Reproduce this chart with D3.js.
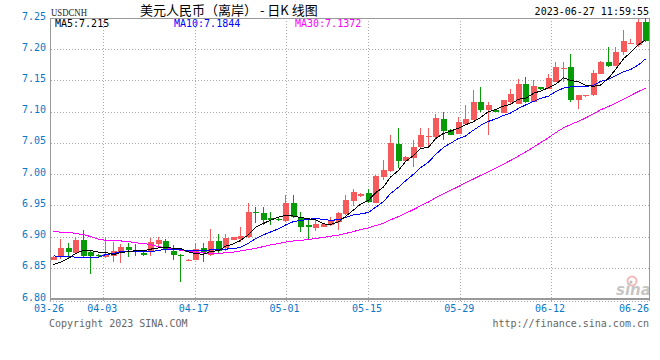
<!DOCTYPE html>
<html>
<head>
<meta charset="UTF-8">
<script src="https://d3js.org/d3.v7.min.js"></script>
<style>
  body { margin: 0; background: #fff; }
  svg { display: block; }
  .mono { font-family: 'DejaVu Sans Mono', monospace; font-size: 10px; }
</style>
</head>
<body>
<svg width="660" height="360"></svg>
<script>
// daily candles, 80 sessions
const opens  = [6.863,6.867,6.882,6.874,6.894,6.875,6.870,6.868,6.869,6.875,6.884,6.878,6.874,6.877,6.888,6.893,6.877,6.870,6.862,6.863,
                6.881,6.870,6.893,6.881,6.895,6.896,6.899,6.939,6.938,6.930,6.928,6.925,6.954,6.931,6.918,6.914,6.916,6.919,6.923,6.936,
                6.957,6.965,6.969,6.954,6.996,7.005,7.049,7.021,7.025,7.044,7.060,7.060,7.088,7.071,7.065,7.081,7.087,7.115,7.102,7.103,
                7.098,7.116,7.112,7.144,7.116,7.139,7.137,7.148,7.169,7.171,7.119,7.125,7.126,7.160,7.179,7.173,7.195,7.209,7.207,7.243];
const highs  = [6.869,6.896,6.890,6.899,6.910,6.879,6.872,6.899,6.891,6.888,6.889,6.888,6.875,6.898,6.900,6.896,6.886,6.872,6.864,6.889,
                6.889,6.912,6.904,6.904,6.900,6.915,6.953,6.948,6.948,6.939,6.929,6.966,6.966,6.939,6.930,6.928,6.922,6.931,6.939,6.966,
                6.976,6.970,6.976,6.999,7.023,7.062,7.074,7.029,7.054,7.074,7.074,7.096,7.099,7.072,7.091,7.110,7.135,7.140,7.116,7.104,
                7.118,7.136,7.153,7.156,7.150,7.140,7.161,7.180,7.179,7.192,7.127,7.127,7.167,7.181,7.204,7.203,7.230,7.216,7.248,7.250];
const lows   = [6.862,6.864,6.866,6.873,6.868,6.840,6.866,6.866,6.859,6.858,6.867,6.869,6.869,6.869,6.881,6.873,6.863,6.827,6.861,6.862,
                6.860,6.869,6.874,6.877,6.894,6.892,6.898,6.921,6.919,6.919,6.925,6.924,6.930,6.907,6.896,6.909,6.915,6.917,6.910,6.935,
                6.949,6.963,6.953,6.953,6.991,7.004,7.010,7.020,7.012,7.040,7.042,7.055,7.055,7.062,7.064,7.080,7.086,7.100,7.063,7.099,
                7.098,7.113,7.112,7.114,7.115,7.135,7.137,7.148,7.148,7.116,7.104,7.124,7.125,7.160,7.171,7.173,7.191,7.208,7.204,7.212];
const closes = [6.868,6.882,6.875,6.894,6.869,6.869,6.869,6.872,6.877,6.884,6.878,6.875,6.871,6.891,6.894,6.880,6.871,6.869,6.863,6.880,
                6.875,6.893,6.877,6.897,6.900,6.901,6.940,6.937,6.927,6.926,6.926,6.954,6.931,6.916,6.915,6.920,6.920,6.925,6.937,6.959,
                6.971,6.968,6.955,6.997,7.006,7.050,7.021,7.027,7.044,7.062,7.061,7.090,7.069,7.063,7.084,7.089,7.115,7.102,7.110,7.100,
                7.118,7.128,7.144,7.116,7.141,7.136,7.154,7.171,7.170,7.118,7.127,7.126,7.162,7.180,7.173,7.196,7.213,7.210,7.244,7.213];

// moving averages as shown on the chart
const ma5  = [6.855,6.859,6.865,6.873,6.8776,6.8778,6.8752,6.8746,6.8712,6.8742,6.876,6.8772,6.877,6.8798,6.8818,6.8822,6.8814,6.881,6.8754,6.8726,
              6.8716,6.876,6.8776,6.8844,6.8884,6.8936,6.903,6.915,6.921,6.9262,6.9312,6.934,6.9328,6.9306,6.9284,6.9272,6.9204,6.9192,6.9234,6.9322,
              6.9424,6.952,6.958,6.970,6.9794,6.9952,7.0058,7.0202,7.0296,7.0408,7.043,7.0568,7.0652,7.069,7.0734,7.079,7.084,7.0906,7.100,7.1032,
              7.109,7.1116,7.120,7.1212,7.1294,7.133,7.1382,7.1436,7.1544,7.1498,7.148,7.1424,7.1406,7.1426,7.1536,7.1674,7.1848,7.1944,7.2072,7.215];
const ma10 = [6.869,6.868,6.868,6.867,6.867,6.867,6.867,6.871,6.873,6.8759,6.8769,6.8762,6.8758,6.8755,6.878,6.8791,6.8793,6.879,6.8776,6.8772,
              6.8769,6.8787,6.8793,6.8799,6.8805,6.8826,6.8895,6.8963,6.9027,6.9073,6.9124,6.9185,6.9239,6.9258,6.9273,6.9292,6.9272,6.926,6.927,6.9303,
              6.9348,6.9362,6.9386,6.9467,6.9558,6.9688,6.9789,6.9891,6.9998,7.0101,7.0191,7.0313,7.0427,7.0493,7.0571,7.061,7.0704,7.0779,7.0845,7.0883,
              7.094,7.0978,7.1053,7.1106,7.1163,7.121,7.1249,7.1318,7.1378,7.1396,7.1405,7.1403,7.1421,7.1485,7.1517,7.1577,7.1636,7.1675,7.1749,7.1844];
const ma30 = [6.908,6.907,6.907,6.905,6.903,6.900,6.896,6.894,6.893,6.893,6.892,6.890,6.889,6.887,6.884,6.882,6.880,6.878,6.876,6.875,
              6.874,6.873,6.873,6.874,6.875,6.877,6.879,6.881,6.884,6.8868,6.8887,6.8911,6.893,6.8937,6.8953,6.897,6.8987,6.9004,6.9024,6.9049,
              6.908,6.9111,6.9139,6.9175,6.9212,6.9269,6.9319,6.9371,6.9432,6.9492,6.9554,6.962,6.9684,6.9739,6.9801,6.9863,6.9922,6.9977,7.0038,7.0096,
              7.016,7.0218,7.0289,7.0355,7.0431,7.0503,7.0581,7.0663,7.074,7.0793,7.0845,7.0898,7.0967,7.1028,7.1084,7.1132,7.1196,7.1257,7.1324,7.1372];

const yTicks = [7.25, 7.20, 7.15, 7.10, 7.05, 7.00, 6.95, 6.90, 6.85, 6.80];
const dateLabels = ["03-26","04-03","04-17","05-01","05-15","05-29","06-12","06-26"];
const datePos = [-0.5, 6.6, 18.8, 30.9, 41.9, 54.2, 66.3, 78];

const svg = d3.select("svg");
const pLeft = 50, pRight = 650, pTop = 18, pBottom = 299;
const x = d3.scaleLinear().domain([-0.5, closes.length - 0.5]).range([pLeft, pRight]);
const y = d3.scaleLinear().domain([6.80, 7.25]).range([pBottom, pTop]);
const blue = "#0a77c9", grid = "#aaa";
const up = "#f65a5a", down = "#079c07";

// horizontal grid
svg.append("g").selectAll("line")
  .data(yTicks.filter(v => v < 7.25 && v > 6.80))
  .join("line")
  .attr("x1", pLeft + 1).attr("x2", pRight)
  .attr("y1", d => Math.round(y(d)) + 0.5).attr("y2", d => Math.round(y(d)) + 0.5)
  .attr("stroke", grid).attr("stroke-dasharray", "1,2").attr("shape-rendering", "crispEdges");

// vertical grid
svg.append("g").selectAll("line")
  .data(datePos.slice(1, -1))
  .join("line")
  .attr("x1", d => Math.round(x(d)) + 0.5).attr("x2", d => Math.round(x(d)) + 0.5)
  .attr("y1", pTop).attr("y2", pBottom + 3)
  .attr("stroke", grid).attr("stroke-dasharray", "1,2").attr("shape-rendering", "crispEdges");

// frame
svg.append("line").attr("x1", pLeft).attr("x2", pRight).attr("y1", pTop + 0.5).attr("y2", pTop + 0.5)
  .attr("stroke", "#999").attr("shape-rendering", "crispEdges");
svg.append("line").attr("x1", pLeft + 0.5).attr("x2", pLeft + 0.5).attr("y1", pTop).attr("y2", pBottom + 2)
  .attr("stroke", "#999").attr("shape-rendering", "crispEdges");
svg.append("line").attr("x1", pRight - 0.5).attr("x2", pRight - 0.5).attr("y1", pTop).attr("y2", pBottom + 2)
  .attr("stroke", "#999").attr("shape-rendering", "crispEdges");
svg.append("line").attr("x1", pLeft).attr("x2", pRight).attr("y1", pBottom).attr("y2", pBottom)
  .attr("stroke", "#999").attr("stroke-width", 2).attr("shape-rendering", "crispEdges");
svg.append("line").attr("x1", pLeft).attr("x2", pRight).attr("y1", pBottom + 2.5).attr("y2", pBottom + 2.5)
  .attr("stroke", grid).attr("stroke-dasharray", "1,2").attr("shape-rendering", "crispEdges");

// y labels
svg.append("g").selectAll("text")
  .data(yTicks)
  .join("text")
  .attr("class", "mono")
  .attr("x", 46).attr("y", d => y(d) + 1.5)
  .attr("text-anchor", "end").attr("fill", blue)
  .text(d => d.toFixed(2));

// x labels
svg.append("g").selectAll("text")
  .data(dateLabels)
  .join("text")
  .attr("class", "mono")
  .attr("x", (d, i) => Math.min(Math.max(x(datePos[i]) - 1, 49), 634))
  .attr("y", 312)
  .attr("text-anchor", "middle").attr("fill", blue)
  .text(d => d);

// candles
const candles = svg.append("g").attr("shape-rendering", "crispEdges");
closes.forEach((c, i) => {
  const o = opens[i], col = c >= o ? up : down;
  const cx = Math.round(x(i));
  const yt = Math.round(y(Math.max(o, c))), yb = Math.round(y(Math.min(o, c)));
  const yh = Math.round(y(highs[i])), yl = Math.round(y(lows[i]));
  candles.append("rect").attr("x", cx - 1).attr("y", yh).attr("width", 1).attr("height", Math.max(1, yl - yh)).attr("fill", col);
  candles.append("rect").attr("x", cx - 3).attr("y", yt).attr("width", 6).attr("height", Math.max(1, yb - yt)).attr("fill", col);
});

// moving averages
const maLine = d3.line().x((d, i) => Math.round(x(i)) - 0.5).y(d => y(d));
[[ma30, "#ff00ff"], [ma10, "#0000ff"], [ma5, "#000"]].forEach(([s, col]) => {
  svg.append("path").attr("d", maLine(s)).attr("fill", "none")
    .attr("stroke", col).attr("stroke-width", 1).attr("shape-rendering", "crispEdges");
});

// header
svg.append("text").attr("x", 51).attr("y", 15.5)
  .attr("font-family", "'Liberation Serif', serif").attr("font-size", 10)
  .attr("textLength", 36).attr("lengthAdjust", "spacingAndGlyphs")
  .attr("fill", "#222").text("USDCNH");
svg.append("text").attr("x", 140).attr("y", 15)
  .attr("font-family", "'Noto Sans CJK SC', sans-serif").attr("font-size", 13)
  .attr("fill", "#000").text("美元人民币（离岸） - 日K 线图");
svg.append("text").attr("class", "mono").attr("x", 649).attr("y", 15)
  .attr("text-anchor", "end").attr("fill", "#000").text("2023-06-27 11:59:55");

svg.append("text").attr("class", "mono").attr("x", 55).attr("y", 26.5).attr("fill", "#000")
  .text("MA5:" + ma5[ma5.length - 1].toFixed(3));
svg.append("text").attr("class", "mono").attr("x", 174).attr("y", 26.5).attr("fill", "#0000ff")
  .text("MA10:" + ma10[ma10.length - 1].toFixed(4));
svg.append("text").attr("class", "mono").attr("x", 295).attr("y", 26.5).attr("fill", "#ff00ff")
  .text("MA30:" + ma30[ma30.length - 1].toFixed(4));

// footer
svg.append("text").attr("class", "mono").attr("x", 49).attr("y", 327).attr("fill", "#666")
  .text("Copyright 2023 SINA.COM");
svg.append("text").attr("class", "mono").attr("x", 649).attr("y", 327).attr("text-anchor", "end").attr("fill", "#666")
  .text("http://finance.sina.com.cn");

// watermark
const logo = svg.append("g").attr("opacity", 0.55);
logo.append("circle").attr("cx", 632).attr("cy", 281).attr("r", 4.5)
  .attr("fill", "none").attr("stroke", "#f08080").attr("stroke-width", 2);
logo.append("circle").attr("cx", 631).attr("cy", 282).attr("r", 1.5).attr("fill", "#888");
logo.append("text").attr("x", 616).attr("y", 295)
  .attr("font-family", "'DejaVu Sans', sans-serif").attr("font-size", 15)
  .attr("font-style", "italic").attr("font-weight", "bold").attr("fill", "#999").text("sina");
</script>
</body>
</html>
